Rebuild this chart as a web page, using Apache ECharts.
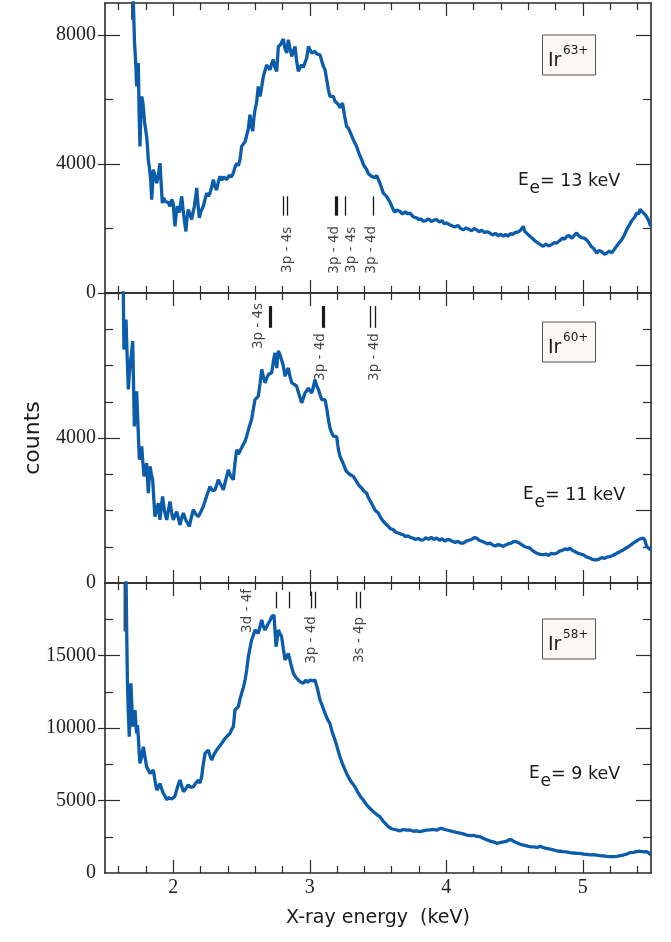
<!DOCTYPE html>
<html><head><meta charset="utf-8">
<script src="https://cdn.jsdelivr.net/npm/echarts@6/dist/echarts.min.js"></script>
<style>html,body{margin:0;padding:0;background:#fff}#c{width:671px;height:942px}</style>
</head><body><div id="c"></div><script>
// ---------- data ----------
const xMajorTicks = [2, 3, 4, 5];
const xMinorTicks = [1.6, 1.8, 2.2, 2.4, 2.6, 2.8, 3.2, 3.4, 3.6, 3.8, 4.2, 4.4, 4.6, 4.8, 5.2, 5.4];

// panel 1 : Ir63+, Ee = 13 keV
const ir63Counts = [[1.690,11500],[1.700,10000],[1.708,8980],[1.716,7800],[1.725,7140],[1.732,6410],[1.738,6900],[1.744,7140],[1.750,5600],[1.756,4550],[1.762,5400],[1.769,6100],[1.778,5900],[1.790,5300],[1.805,4860],[1.812,4500],[1.817,4140],[1.825,3900],[1.835,3500],[1.842,2900],[1.848,3300],[1.854,3830],[1.862,3700],[1.870,3550],[1.879,3410],[1.890,3650],[1.903,4030],[1.910,3500],[1.920,2790],[1.930,2950],[1.940,2850],[1.952,2900],[1.965,2800],[1.976,2690],[1.988,2900],[2.000,2790],[2.006,2400],[2.013,2070],[2.020,2400],[2.030,2700],[2.037,2690],[2.045,2500],[2.055,2800],[2.062,3000],[2.072,2600],[2.083,2200],[2.093,1910],[2.100,2300],[2.110,2590],[2.122,2450],[2.135,2280],[2.145,2500],[2.155,2700],[2.165,3000],[2.172,3260],[2.180,2800],[2.191,2330],[2.200,2500],[2.210,2600],[2.220,2690],[2.232,2900],[2.245,3100],[2.257,3000],[2.269,3100],[2.282,3300],[2.294,3520],[2.306,3300],[2.318,3200],[2.330,3450],[2.343,3620],[2.355,3500],[2.370,3600],[2.391,3520],[2.410,3650],[2.425,3600],[2.440,3720],[2.452,3900],[2.465,4030],[2.477,3950],[2.489,4140],[2.501,4550],[2.515,4600],[2.527,4700],[2.538,4760],[2.550,5100],[2.562,5530],[2.572,5200],[2.582,5020],[2.590,5400],[2.599,5690],[2.610,5900],[2.623,6410],[2.636,6100],[2.648,6400],[2.660,6720],[2.672,6900],[2.684,7080],[2.697,7000],[2.709,6930],[2.720,7100],[2.733,7240],[2.745,7000],[2.758,6880],[2.770,7650],[2.785,7700],[2.796,7800],[2.806,7880],[2.818,7600],[2.831,7450],[2.843,7860],[2.855,7600],[2.868,7340],[2.880,7500],[2.892,7650],[2.904,7200],[2.916,6880],[2.928,7000],[2.941,7080],[2.953,7000],[2.965,7030],[2.978,7300],[2.990,7650],[3.002,7550],[3.014,7450],[3.026,7400],[3.038,7500],[3.050,7420],[3.062,7380],[3.075,7390],[3.088,7200],[3.100,7030],[3.112,6930],[3.125,6600],[3.137,6300],[3.148,6100],[3.160,6050],[3.173,6100],[3.185,5950],[3.197,5900],[3.210,5850],[3.222,5750],[3.240,5900],[3.255,5500],[3.270,5170],[3.285,5100],[3.295,5000],[3.307,4960],[3.320,4750],[3.330,4800],[3.343,4550],[3.355,4400],[3.368,4250],[3.380,4140],[3.392,4000],[3.405,3900],[3.417,3830],[3.430,3700],[3.441,3750],[3.453,3620],[3.465,3650],[3.478,3580],[3.490,3650],[3.502,3620],[3.515,3400],[3.527,3250],[3.539,3100],[3.551,3050],[3.563,3000],[3.575,3000],[3.590,2800],[3.600,2700],[3.612,2590],[3.625,2500],[3.637,2580],[3.649,2520],[3.661,2530],[3.680,2450],[3.700,2520],[3.715,2460],[3.734,2480],[3.750,2400],[3.765,2350],[3.783,2330],[3.800,2280],[3.815,2300],[3.832,2220],[3.850,2250],[3.870,2300],[3.890,2220],[3.910,2260],[3.929,2280],[3.950,2200],[3.970,2240],[3.985,2150],[4.003,2170],[4.025,2120],[4.045,2080],[4.065,2050],[4.085,2100],[4.105,2000],[4.125,1960],[4.145,2020],[4.165,1980],[4.185,1930],[4.205,2000],[4.223,1960],[4.240,1900],[4.260,1950],[4.280,1880],[4.300,1900],[4.320,1860],[4.340,1800],[4.360,1850],[4.380,1780],[4.400,1820],[4.418,1760],[4.435,1820],[4.450,1760],[4.470,1840],[4.490,1820],[4.505,1880],[4.515,1860],[4.530,1900],[4.545,1950],[4.555,2000],[4.564,2070],[4.575,1920],[4.590,1850],[4.613,1760],[4.630,1700],[4.650,1620],[4.670,1560],[4.690,1500],[4.711,1450],[4.730,1520],[4.750,1460],[4.770,1500],[4.790,1560],[4.809,1550],[4.830,1620],[4.850,1700],[4.870,1680],[4.882,1760],[4.900,1780],[4.920,1700],[4.940,1800],[4.955,1860],[4.970,1780],[4.990,1720],[5.010,1700],[5.028,1650],[5.045,1560],[5.060,1450],[5.080,1380],[5.102,1240],[5.120,1320],[5.140,1280],[5.160,1200],[5.175,1240],[5.195,1300],[5.215,1250],[5.235,1380],[5.248,1450],[5.265,1550],[5.285,1650],[5.305,1800],[5.321,1960],[5.340,2100],[5.360,2250],[5.380,2350],[5.395,2480],[5.410,2450],[5.420,2600],[5.431,2590],[5.445,2480],[5.460,2420],[5.480,2280],[5.497,2070]];

// panel 2 : Ir60+, Ee = 11 keV
const ir60Counts = [[1.630,9500],[1.634,8000],[1.639,6440],[1.646,7000],[1.654,7270],[1.662,6300],[1.671,5340],[1.677,5700],[1.683,5980],[1.693,6300],[1.703,6670],[1.709,5500],[1.715,4320],[1.724,4800],[1.732,5290],[1.742,4300],[1.752,3400],[1.760,3600],[1.769,3770],[1.778,3300],[1.786,2940],[1.795,3100],[1.805,3310],[1.811,2900],[1.817,2480],[1.824,2900],[1.830,3220],[1.840,3000],[1.849,2850],[1.858,2300],[1.866,1830],[1.878,2000],[1.891,2200],[1.897,1950],[1.903,1740],[1.912,2100],[1.922,2390],[1.935,2000],[1.952,1740],[1.964,2000],[1.976,2250],[1.988,1950],[2.000,1740],[2.012,1850],[2.025,1970],[2.037,1800],[2.049,1600],[2.062,1800],[2.074,1930],[2.090,1750],[2.105,1650],[2.118,1560],[2.132,1800],[2.147,2020],[2.165,1900],[2.184,1830],[2.200,1950],[2.220,2110],[2.245,2400],[2.269,2660],[2.288,2550],[2.306,2570],[2.318,2700],[2.330,2850],[2.350,2700],[2.367,2570],[2.385,2850],[2.404,3120],[2.420,2950],[2.440,2850],[2.452,3300],[2.465,3680],[2.477,3550],[2.489,3590],[2.510,3800],[2.525,3900],[2.538,4050],[2.556,4300],[2.574,4510],[2.587,4800],[2.599,5060],[2.611,5100],[2.623,5150],[2.636,5500],[2.648,5890],[2.660,5700],[2.672,5520],[2.685,5650],[2.697,5750],[2.709,5700],[2.721,5800],[2.733,6100],[2.745,6350],[2.752,6100],[2.758,5930],[2.764,6200],[2.770,6400],[2.782,6300],[2.794,6260],[2.806,6000],[2.819,5700],[2.831,5850],[2.843,5930],[2.855,5700],[2.868,5520],[2.886,5480],[2.904,5430],[2.922,5200],[2.941,4970],[2.953,5100],[2.965,5240],[2.978,5300],[2.990,5380],[3.002,5300],[3.014,5240],[3.026,5400],[3.038,5610],[3.050,5450],[3.063,5340],[3.075,5200],[3.087,5060],[3.100,5100],[3.112,5060],[3.125,4800],[3.137,4500],[3.148,4280],[3.160,4150],[3.173,4050],[3.185,4100],[3.197,4040],[3.209,3700],[3.221,3500],[3.233,3400],[3.250,3250],[3.265,3100],[3.282,3030],[3.300,2980],[3.319,2940],[3.335,2850],[3.350,2750],[3.368,2660],[3.385,2600],[3.400,2520],[3.417,2480],[3.430,2350],[3.445,2250],[3.465,2110],[3.480,2000],[3.502,1930],[3.520,1800],[3.535,1720],[3.551,1650],[3.570,1580],[3.590,1500],[3.612,1470],[3.630,1400],[3.650,1380],[3.668,1350],[3.685,1330],[3.700,1280],[3.720,1300],[3.740,1250],[3.758,1240],[3.775,1200],[3.795,1230],[3.815,1180],[3.832,1190],[3.850,1250],[3.870,1200],[3.890,1260],[3.910,1200],[3.929,1240],[3.950,1180],[3.970,1220],[3.990,1160],[4.010,1200],[4.027,1190],[4.045,1150],[4.065,1120],[4.085,1150],[4.105,1100],[4.125,1100],[4.145,1150],[4.165,1180],[4.185,1200],[4.205,1250],[4.223,1240],[4.240,1180],[4.260,1150],[4.280,1120],[4.300,1080],[4.320,1100],[4.340,1050],[4.360,1020],[4.380,1060],[4.400,1040],[4.418,1010],[4.435,1050],[4.455,1080],[4.475,1100],[4.495,1150],[4.515,1140],[4.535,1100],[4.555,1050],[4.575,1000],[4.595,980],[4.613,960],[4.630,900],[4.650,850],[4.670,810],[4.690,790],[4.711,780],[4.730,800],[4.750,760],[4.770,820],[4.790,800],[4.809,820],[4.830,880],[4.850,900],[4.870,940],[4.890,920],[4.906,960],[4.925,900],[4.945,860],[4.965,820],[4.985,800],[5.004,780],[5.025,720],[5.045,700],[5.065,660],[5.085,640],[5.102,640],[5.120,660],[5.140,700],[5.160,680],[5.180,720],[5.199,730],[5.220,760],[5.240,800],[5.260,840],[5.280,880],[5.297,910],[5.315,960],[5.335,1000],[5.355,1060],[5.370,1100],[5.390,1150],[5.410,1200],[5.425,1220],[5.443,1240],[5.455,1180],[5.468,1010],[5.480,1050],[5.497,910]];

// panel 3 : Ir58+, Ee = 9 keV
const ir58Counts = [[1.652,22000],[1.656,19000],[1.660,16000],[1.664,13310],[1.671,11000],[1.678,9400],[1.684,11500],[1.690,13080],[1.697,11500],[1.703,10090],[1.711,10800],[1.720,11240],[1.726,10300],[1.732,9630],[1.738,10200],[1.744,9400],[1.750,8400],[1.756,7560],[1.768,8000],[1.781,8710],[1.793,8000],[1.805,7330],[1.817,7100],[1.830,6870],[1.842,6900],[1.854,7100],[1.866,6400],[1.879,5720],[1.891,5900],[1.903,6180],[1.915,5800],[1.927,5490],[1.940,5300],[1.952,5040],[1.964,5200],[1.976,5260],[1.988,5100],[2.000,5040],[2.012,5300],[2.025,5720],[2.037,6100],[2.049,6410],[2.062,6000],[2.074,5610],[2.090,5800],[2.110,6070],[2.128,5900],[2.147,5950],[2.165,6200],[2.184,6410],[2.196,6200],[2.208,6640],[2.220,7500],[2.233,8250],[2.245,8300],[2.257,8480],[2.269,8100],[2.281,7790],[2.300,8200],[2.318,8480],[2.336,8700],[2.355,8940],[2.373,9200],[2.391,9400],[2.404,9500],[2.416,9630],[2.428,9900],[2.440,10090],[2.446,10600],[2.452,11240],[2.465,11300],[2.477,11470],[2.489,12000],[2.501,12390],[2.514,12800],[2.526,13310],[2.538,14000],[2.550,14920],[2.562,15500],[2.574,16070],[2.587,16400],[2.599,16760],[2.611,16700],[2.623,16530],[2.636,17000],[2.648,17450],[2.660,17000],[2.672,16760],[2.685,17000],[2.697,17220],[2.709,17400],[2.721,17680],[2.738,17790],[2.745,16800],[2.753,15610],[2.762,16200],[2.770,16760],[2.782,16500],[2.794,16300],[2.806,15500],[2.819,14690],[2.831,14900],[2.843,15150],[2.862,14400],[2.880,13770],[2.898,13500],[2.916,13310],[2.935,13150],[2.953,13080],[2.970,13300],[2.985,13150],[3.002,13310],[3.020,13250],[3.038,13310],[3.057,12700],[3.075,11930],[3.093,11500],[3.112,11010],[3.130,10600],[3.148,10300],[3.165,9700],[3.185,9170],[3.203,8600],[3.221,8020],[3.245,7400],[3.270,6870],[3.290,6500],[3.310,6200],[3.331,5950],[3.350,5600],[3.370,5300],[3.392,5030],[3.410,4800],[3.430,4550],[3.453,4350],[3.475,4150],[3.495,4000],[3.514,3890],[3.535,3600],[3.555,3400],[3.575,3200],[3.600,3050],[3.620,3000],[3.636,2970],[3.660,2900],[3.685,3000],[3.710,2950],[3.734,2970],[3.760,2880],[3.785,2900],[3.807,2850],[3.830,2900],[3.855,2950],[3.881,2970],[3.905,3000],[3.930,2950],[3.950,3050],[3.966,3080],[3.990,3000],[4.010,2950],[4.030,2900],[4.052,2850],[4.075,2800],[4.100,2750],[4.125,2700],[4.149,2620],[4.175,2580],[4.200,2600],[4.225,2520],[4.247,2510],[4.270,2400],[4.295,2300],[4.320,2200],[4.345,2150],[4.369,2050],[4.395,2100],[4.420,2150],[4.445,2200],[4.460,2300],[4.479,2280],[4.500,2150],[4.525,2050],[4.550,1950],[4.575,1900],[4.595,1850],[4.613,1820],[4.640,1800],[4.665,1760],[4.690,1850],[4.710,1750],[4.735,1700],[4.760,1650],[4.785,1600],[4.810,1520],[4.835,1500],[4.857,1470],[4.880,1450],[4.905,1400],[4.930,1380],[4.955,1350],[4.980,1360],[5.005,1300],[5.030,1280],[5.055,1250],[5.080,1270],[5.102,1240],[5.125,1200],[5.150,1180],[5.175,1150],[5.200,1130],[5.224,1130],[5.250,1150],[5.275,1200],[5.297,1240],[5.320,1300],[5.345,1400],[5.370,1420],[5.395,1470],[5.420,1500],[5.445,1450],[5.468,1470],[5.485,1380],[5.497,1240]];

const ir63DarkTrace = [[1.696, 9000], [1.696, 8480]];
const ir58DarkTrace = [[1.641, 20000], [1.641, 16650]];

// y ranges and ticks
const yMaxes = [9000, 8000, 20000];
const yLabelValues = [[0, 4000, 8000], [0, 4000], [0, 5000, 10000, 15000]];
const yLeftMajor = [[0, 4000, 8000], [4000], [5000, 10000, 15000]];
const yLeftMinor = [[2000, 6000], [1000, 2000, 3000, 5000, 6000, 7000], [2500, 7500, 12500, 17500]];
const yRightMajor = [[4000, 8000], [2000, 4000, 6000], [5000, 10000, 15000]];
const yRightMinor = [[2000, 6000], [1000, 3000, 5000, 7000], [2500, 7500, 12500, 17500]];

// transition markers: energies (keV), count ranges, labels
const markRange = [[2400, 3000], [7040, 7640], [18250, 19400]];
const thinMarks = [[2.806, 2.836, 3.263, 3.466], [3.441, 3.478], [2.753, 2.850, 3.009, 3.038, 3.339, 3.368]];
const thickMarks = [[3.197], [2.709, 3.099], []];
const markLabels = [
  [[2.837, 1340, '3p - 4s'], [3.178, 1340, '3p - 4d'], [3.306, 1340, '3p - 4s'], [3.449, 1340, '3p - 4d']],
  [[2.628, 7090, '3p - 4s'], [3.082, 6233, '3p - 4d'], [3.471, 6233, '3p - 4d']],
  [[2.544, 18070, '3d - 4f'], [3.014, 16070, '3p - 4d'], [3.368, 16070, '3s - 4p']]
];
const ionLabels = [['Ir', '63+'], ['Ir', '60+'], ['Ir', '58+']];
const energyLabels = ['= 13 keV', '= 11 keV', '= 9 keV'];

// ---------- build ----------
const AX = '#2b2b2b';
const BLUE = '#0b5cab';
const SANS = 'DejaVu Sans';
const SERIF = 'Liberation Serif';
const gridTops = [3, 293, 583];
const H = 290;

const grids = gridTops.map(t => ({left: 105, right: 20, top: t, height: H, show: false}));
const xAxes = [], yAxes = [], series = [];

function mkX(g, pos, ticks, len, line, labels) {
  return {type: 'value', gridIndex: g, min: 1.5, max: 5.5, position: pos,
    axisLine: {show: line, onZero: false, lineStyle: {color: AX, width: 1.6}},
    axisTick: {show: true, inside: true, length: len, customValues: ticks, lineStyle: {color: AX, width: 1.2}},
    axisLabel: labels ? {show: true, customValues: xMajorTicks, color: '#222', fontFamily: SERIF, fontSize: 20, margin: 5, formatter: v => String(v)} : {show: false},
    splitLine: {show: false}};
}
function mkY(g, pos, max, ticks, len, inside, line, labels) {
  return {type: 'value', gridIndex: g, min: 0, max: max, position: pos,
    axisLine: {show: line, onZero: false, lineStyle: {color: AX, width: 1.6}},
    axisTick: {show: ticks.length > 0, inside: inside, length: len, customValues: ticks, lineStyle: {color: AX, width: 1.2}},
    axisLabel: labels ? {show: true, customValues: labels, color: '#222', fontFamily: SERIF, fontSize: 20, margin: 9, formatter: v => String(v)} : {show: false},
    splitLine: {show: false}};
}

const panelData = [ir63Counts, ir60Counts, ir58Counts];
for (let i = 0; i < 3; i++) {
  const xi = xAxes.length, yi = yAxes.length;
  xAxes.push(mkX(i, 'bottom', xMajorTicks, 13, true, i === 2));
  xAxes.push(mkX(i, 'bottom', xMinorTicks, 7, false, false));
  xAxes.push(mkX(i, 'top', xMajorTicks, 13, true, false));
  xAxes.push(mkX(i, 'top', xMinorTicks, 7, false, false));
  yAxes.push(mkY(i, 'left', yMaxes[i], yLeftMajor[i], 15, true, true, yLabelValues[i]));
  yAxes.push(mkY(i, 'left', yMaxes[i], yLeftMajor[i], 7, false, false, null));
  yAxes.push(mkY(i, 'left', yMaxes[i], yLeftMinor[i], 8, true, false, null));
  yAxes.push(mkY(i, 'right', yMaxes[i], yRightMajor[i], 15, true, true, null));
  yAxes.push(mkY(i, 'right', yMaxes[i], yRightMinor[i], 8, true, false, null));

  const ml = [];
  thinMarks[i].forEach(x => ml.push([{coord: [x, markRange[i][0]], lineStyle: {color: '#1a1a1a', width: 1.3, type: 'solid'}}, {coord: [x, markRange[i][1]]}]));
  thickMarks[i].forEach(x => ml.push([{coord: [x, markRange[i][0]], lineStyle: {color: '#1a1a1a', width: 3.2, type: 'solid'}}, {coord: [x, markRange[i][1]]}]));

  series.push({type: 'line', xAxisIndex: xi, yAxisIndex: yi, data: panelData[i], showSymbol: false, symbol: 'none',
    lineStyle: {color: BLUE, width: 3.3}, clip: true, z: 3, animation: false,
    markLine: {silent: true, symbol: ['none', 'none'], label: {show: false}, animation: false, data: ml}});
  series.push({type: 'scatter', xAxisIndex: xi, yAxisIndex: yi, symbolSize: 1, animation: false, silent: true,
    itemStyle: {color: 'rgba(0,0,0,0)'},
    data: markLabels[i].map(l => ({value: [l[0], l[1]], name: l[2]})),
    label: {show: true, formatter: '{b}', rotate: 90, position: 'inside', align: 'center', verticalAlign: 'middle',
      fontFamily: SANS, fontSize: 13.5, color: '#151515'}});
}
series.push({type: 'line', xAxisIndex: 0, yAxisIndex: 0, data: ir63DarkTrace, showSymbol: false, symbol: 'none', lineStyle: {color: '#333', width: 1.3}, clip: true, z: 2, animation: false});
series.push({type: 'line', xAxisIndex: 8, yAxisIndex: 10, data: ir58DarkTrace, showSymbol: false, symbol: 'none', lineStyle: {color: '#333', width: 1.3}, clip: true, z: 2, animation: false});

const graphic = [];
const boxTops = [35, 322, 619];
const eeLeft = [518, 523, 529];
const eeMid = [181, 495, 774];
for (let i = 0; i < 3; i++) {
  graphic.push({type: 'rect', shape: {x: 542.5, y: boxTops[i], width: 53, height: 40}, style: {fill: '#fcf8f1', stroke: '#555', lineWidth: 1}, z: 10});
  graphic.push({type: 'text', x: 548, y: boxTops[i] + 26, style: {text: ionLabels[i][0], fontFamily: SANS, fontSize: 19, fill: '#1a1a1a', verticalAlign: 'middle'}, z: 11});
  graphic.push({type: 'text', x: 563, y: boxTops[i] + 15.5, style: {text: ionLabels[i][1], fontFamily: SANS, fontSize: 12, fill: '#1a1a1a', verticalAlign: 'middle'}, z: 11});
  graphic.push({type: 'text', x: eeLeft[i], y: eeMid[i], style: {text: 'E', fontFamily: SANS, fontSize: 17, fill: '#1a1a1a', verticalAlign: 'middle'}, z: 11});
  graphic.push({type: 'text', x: eeLeft[i] + 11.5, y: eeMid[i] + 7.5, style: {text: 'e', fontFamily: SANS, fontSize: 17, fill: '#1a1a1a', verticalAlign: 'middle'}, z: 11});
  graphic.push({type: 'text', x: eeLeft[i] + 22, y: eeMid[i], style: {text: energyLabels[i], fontFamily: SANS, fontSize: 17.5, fill: '#1a1a1a', verticalAlign: 'middle'}, z: 11});
}
graphic.push({type: 'text', x: 33, y: 438, rotation: Math.PI / 2, style: {text: 'counts', fontFamily: SANS, fontSize: 22, fill: '#1a1a1a', align: 'center', verticalAlign: 'middle'}});
graphic.push({type: 'text', x: 378, y: 918, style: {text: 'X-ray energy  (keV)', fontFamily: SANS, fontSize: 19, fill: '#1a1a1a', align: 'center', verticalAlign: 'middle'}});

const chart = echarts.init(document.getElementById('c'), null, {renderer: 'canvas'});
chart.setOption({animation: false, backgroundColor: '#fff', grid: grids, xAxis: xAxes, yAxis: yAxes, series: series, graphic: graphic});
</script></body></html>
